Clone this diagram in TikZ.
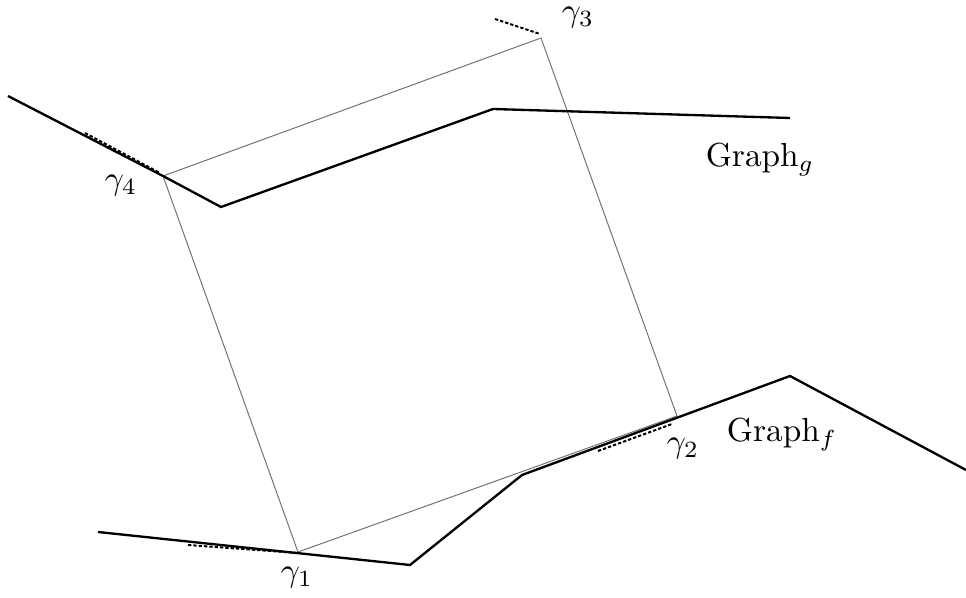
\documentclass[tikz,border=0pt]{standalone}
\begin{document}
\begin{tikzpicture}[x=0.3pt,y=-0.3pt,
  graphline/.style={line width=0.7pt,black,line join=miter},
  quad/.style={line width=0.3pt,black!55},
  tang/.style={line width=0.6pt,black,dash pattern=on 1pt off 0.6pt},
  lbl/.style={inner sep=0pt,font=\normalsize}]
\useasboundingbox (0,0) rectangle (966,598);
% points
\coordinate (g1) at (298,552);
\coordinate (g2) at (677,416);
\coordinate (g3) at (541,38);
\coordinate (g4) at (163,176);
% graph of g
\coordinate (ga) at (8,96);
\coordinate (gb) at (221,207);
\coordinate (gc) at (493,109);
\coordinate (gd) at (790,118);
% graph of f
\coordinate (fa) at (98,532);
\coordinate (fb) at (410,565);
\coordinate (fc) at (522,475);
\coordinate (fd) at (790,376);
\coordinate (fe) at (966,470);
% quadrilateral
\draw[quad] (g1) -- (g2) -- (g3) -- (g4) -- cycle;
% graphs
\draw[graphline] (ga) -- (g4) -- (gb) -- (gc) -- (gd);
\draw[graphline] (fa) -- (fb) -- (fc) -- (fd) -- (fe);
% tangent segments
\coordinate (t4a) at (85,133);  \coordinate (t4b) at (160,173);
\coordinate (t1a) at (188,545); \coordinate (t1b) at (298,553);
\coordinate (t2a) at (598,451); \coordinate (t2b) at (672,424);
\coordinate (t3a) at (495,19);  \coordinate (t3b) at (540,34);
\draw[tang] (t4a) -- (t4b);
\draw[tang] (t1a) -- (t1b);
\draw[tang] (t2a) -- (t2b);
\draw[tang] (t3a) -- (t3b);
% labels
\node[lbl] (l3) at (578,18) {$\gamma_3$};
\node[lbl] (l4) at (121,186) {$\gamma_4$};
\node[lbl] (l2) at (683,449) {$\gamma_2$};
\node[lbl] (l1) at (297,578) {$\gamma_1$};
\node[lbl] (lg) at (760,160) {Graph$_g$};
\node[lbl] (lf) at (782,435) {Graph$_f$};
\end{tikzpicture}
\end{document}
